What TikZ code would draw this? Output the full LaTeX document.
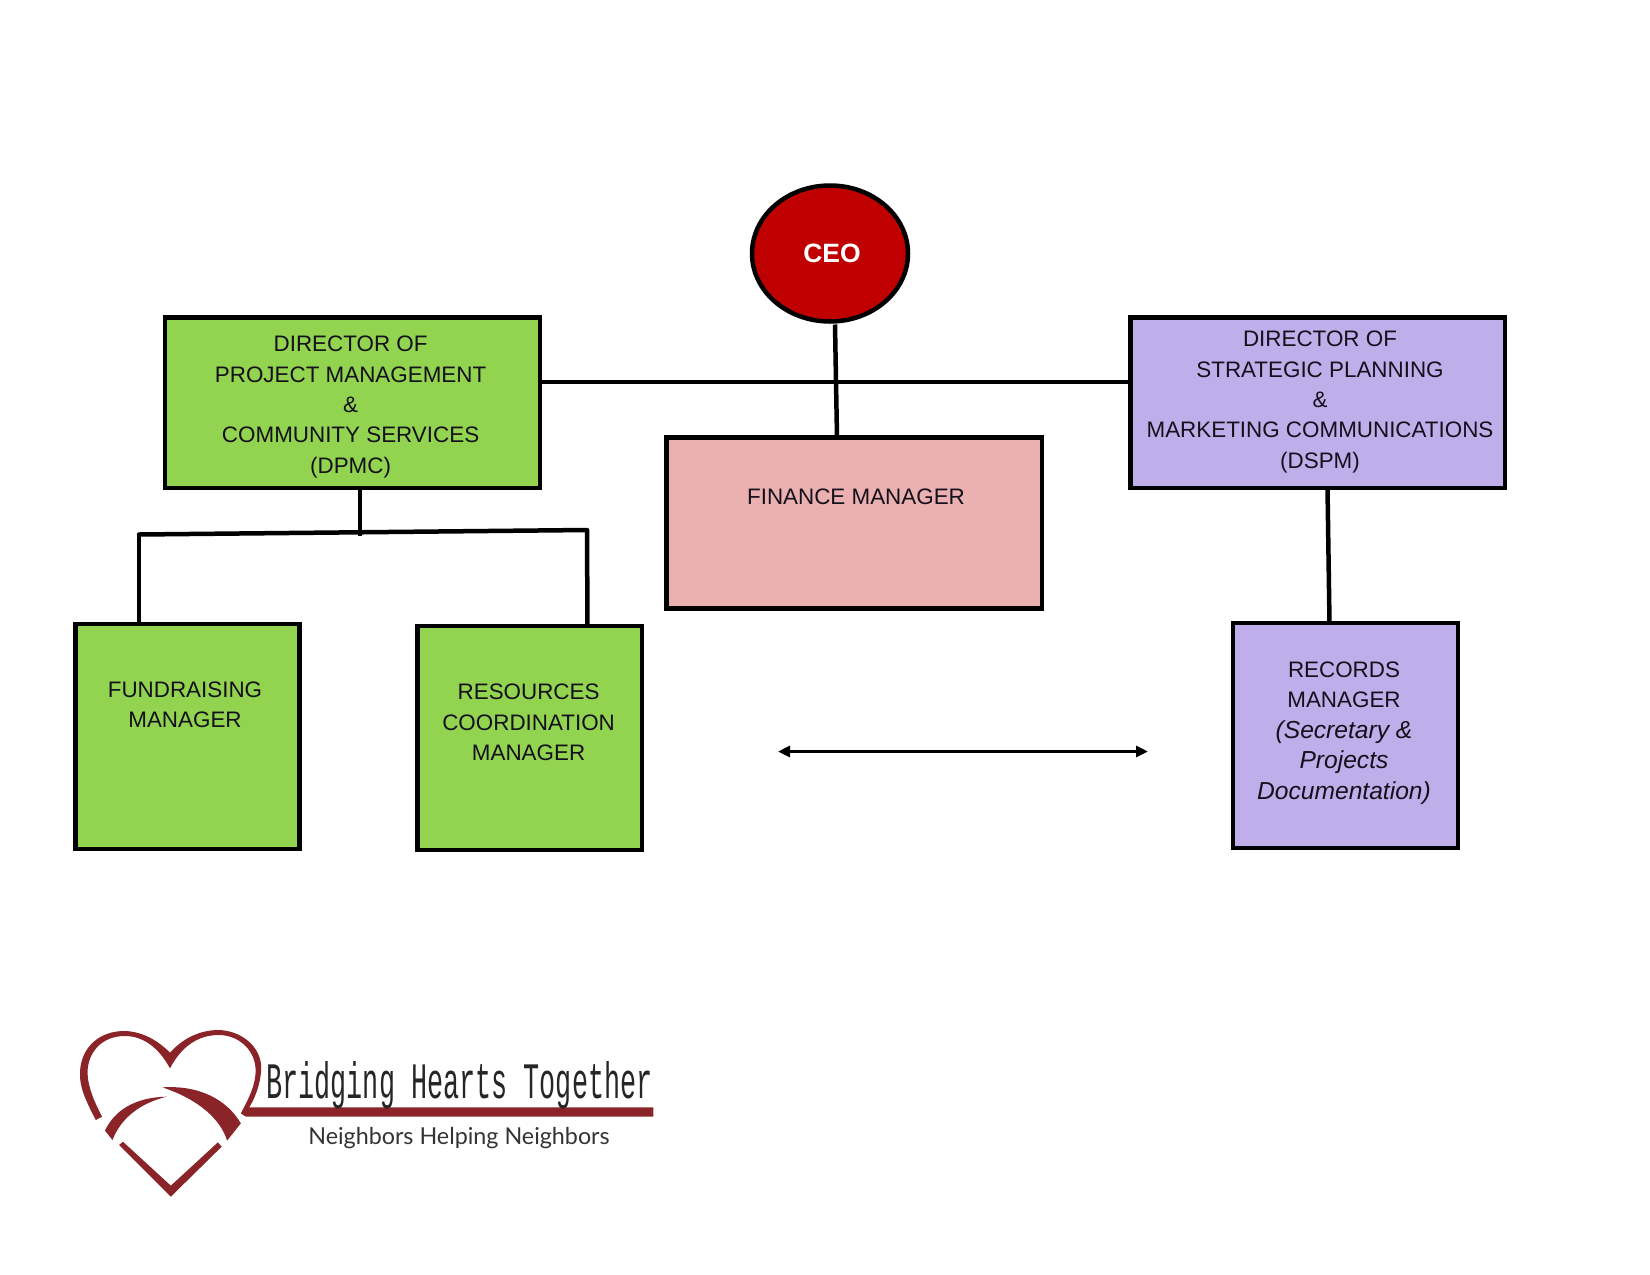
\documentclass[tikz,border=0pt]{standalone}
\usepackage{fontspec}
\usepackage{graphicx}
\setmainfont{Liberation Sans}
\newfontfamily\logomono{Liberation Mono}
\newfontfamily\logosub{Lato}
\usetikzlibrary{arrows.meta,shapes.geometric}
\definecolor{grn}{HTML}{92D34F}
\definecolor{prp}{HTML}{BFAEE9}
\definecolor{pnk}{HTML}{EBB0B0}
\definecolor{ceored}{HTML}{C00000}
\definecolor{logored}{HTML}{8B2428}
\definecolor{txt}{HTML}{14101C}
\tikzset{
  x=1pt,y=-1pt,
  orgbox/.style={draw=black,line width=4.5pt,rectangle,inner sep=0pt,outer sep=0pt},
  lbl/.style={font=\fontsize{22.4}{30.4}\selectfont,text=txt,align=center,inner sep=0pt},
  wire/.style={draw=black,line width=4.5pt},
}
\newcommand{\itlabel}[1]{{\fontsize{24.6}{30.4}\selectfont\itshape #1}}
\begin{document}
\begin{tikzpicture}
\useasboundingbox (0,0) rectangle (1650,1275);
% boxes
\node[ellipse,draw=black,line width=4.5pt,fill=ceored,minimum width=156pt,minimum height=136pt,inner sep=0pt,outer sep=0pt] (ceo) at (830,253.5) {};
\node[orgbox,fill=grn,minimum width=375pt,minimum height=170.5pt] (dpmc) at (352.3,402.5) {};
\node[orgbox,fill=prp,minimum width=374.5pt,minimum height=170.5pt] (dspm) at (1317.5,402.5) {};
\node[orgbox,fill=pnk,minimum width=375.5pt,minimum height=171pt] (fin) at (854,523) {};
\node[orgbox,fill=grn,minimum width=224pt,minimum height=225pt] (fund) at (187.7,736.5) {};
\node[orgbox,fill=grn,minimum width=224.5pt,minimum height=224pt] (res) at (529.5,738) {};
\node[orgbox,fill=prp,minimum width=225pt,minimum height=225pt] (rec) at (1345.5,735.5) {};
% labels
\node[font=\fontsize{26.5}{30}\selectfont\bfseries,text=white,inner sep=0pt] (ceot) at (832,253.5) {CEO};
\node[lbl] (dpmct) at (350.6,407) {DIRECTOR OF\\PROJECT MANAGEMENT\\\&\\COMMUNITY SERVICES\\(DPMC)};
\node[lbl] (dspmt) at (1320,402) {DIRECTOR OF\\STRATEGIC PLANNING\\\&\\MARKETING COMMUNICATIONS\\(DSPM)};
\node[lbl] (fint) at (856,497) {FINANCE MANAGER};
\node[lbl] (fundt) at (185,705) {FUNDRAISING\\MANAGER};
\node[lbl] (rest) at (528.6,722.5) {RESOURCES\\COORDINATION\\MANAGER};
\node[lbl] (rect) at (1344,733) {RECORDS\\MANAGER\\\itlabel{(Secretary \&}\\\itlabel{Projects}\\\itlabel{Documentation)}};
% connectors
\coordinate (jm) at (360,535.5);
\coordinate (jl) at (139,534.5);
\coordinate (jr) at (587,530);
\coordinate (al) at (778,751.5);
\coordinate (ar) at (1148,751.5);
\draw[wire] ([yshift=20.5pt]dpmc.east) -- ([yshift=20.5pt]dspm.west);
\draw[wire] ([xshift=5pt,yshift=-3pt]ceo.south) -- ([xshift=-17pt]fin.north);
\draw[wire] ([xshift=7.7pt]dpmc.south) -- (jm);
\draw[wire,line cap=round] (jl) -- (jr);
\draw[wire] (jl) -- ([xshift=-48.7pt]fund.north);
\draw[wire] (jr) -- ([xshift=58pt]res.north);
\draw[wire] ([xshift=10pt]dspm.south) -- ([xshift=-16pt]rec.north);
\draw[line width=3.6pt,{Triangle[length=12pt,width=11pt]}-{Triangle[length=12pt,width=11pt]}] (al) -- (ar);
% logo (drawn directly)
\begin{scope}[shift={(50,1000)},x=0.41667pt,y=-0.33333pt]
\fill[logored] (110,360) .. controls (85,300) and (70,260) .. (72,215) .. controls (75,140) and (120,92) .. (180,93) .. controls (225,95) and (262,125) .. (288,158) .. controls (315,120) and (355,90) .. (405,90) .. controls (460,92) and (505,140) .. (507,200) .. controls (507,250) and (490,300) .. (478,322) -- (1448,322) -- (1448,350) -- (470,350) -- (458,340) .. controls (475,300) and (497,250) .. (493,200) .. controls (488,145) and (450,105) .. (405,105) .. controls (355,105) and (315,140) .. (288,205) .. controls (262,145) and (225,108) .. (180,108) .. controls (125,108) and (92,155) .. (90,215) .. controls (90,260) and (108,310) .. (125,350) -- cycle;
\fill[logored] (132,392) .. controls (155,330) and (205,292) .. (280,290) .. controls (215,310) and (170,355) .. (150,420) -- cycle;
\fill[logored] (270,262) .. controls (360,255) and (425,300) .. (458,370) -- (425,422) .. controls (410,360) and (360,300) .. (270,262) -- cycle;
\fill[logored] (175,425) -- (290,557) -- (403,427) -- (412,440) -- (290,590) -- (166,435) -- cycle;
\end{scope}
\node[text=black!85,inner sep=0pt,anchor=base] (logotitle) at (459.5,1098) {\resizebox{386pt}{37pt}{\logomono Bridging Hearts Together}};
\node[text=black!80,inner sep=0pt,font=\logosub\fontsize{23.3}{28}\selectfont] (logosub) at (459,1138) {Neighbors Helping Neighbors};
\end{tikzpicture}
\end{document}
